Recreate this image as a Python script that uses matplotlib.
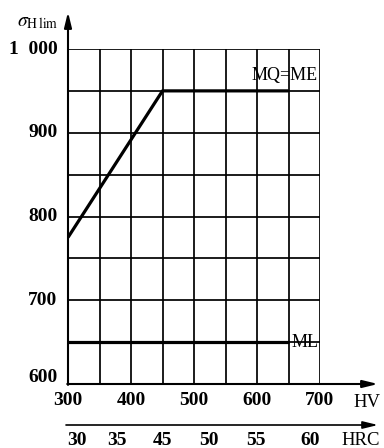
import matplotlib
matplotlib.use("Agg")
import matplotlib.pyplot as plt

plt.rcParams["font.family"] = ["Liberation Serif", "DejaVu Serif"]
plt.rcParams["mathtext.fontset"] = "stix"

# Contact fatigue limit vs. hardness
hv_ticks = [300, 400, 500, 600, 700]
sigma_ticks = [600, 700, 800, 900, 1000]
sigma_tick_labels = ["600", "700", "800", "900", "1  000"]

mqme_hv = [300, 450, 650]
mqme_sigma = [775, 950, 950]
ml_hv = [300, 650]
ml_sigma = [650, 650]

# HRC scale with equivalent HV positions
hrc_labels = ["30", "35", "45", "50", "55", "60"]
hrc_at_hv = [314, 377, 450, 523, 599, 685]

fig = plt.figure(figsize=(3.84, 4.48), dpi=100)
W, H = 384, 448
x0, x1 = 68, 320
y0, y1 = 384, 49
ax = fig.add_axes([x0 / W, 1 - y0 / H, (x1 - x0) / W, (y0 - y1) / H])
ax.set_xlim(300, 700)
ax.set_ylim(600, 1000)

for v in range(350, 701, 50):
    ax.axvline(v, color="black", lw=1.25)
for v in range(650, 1001, 50):
    ax.axhline(v, color="black", lw=1.25)

ax.plot(mqme_hv, mqme_sigma, color="black", lw=2.3, solid_capstyle="butt")
ax.plot(ml_hv, ml_sigma, color="black", lw=2.3, solid_capstyle="butt")

ax.text(592, 958, "MQ=ME", fontsize=13, ha="left", va="bottom")
ax.text(655, 650, "ML", fontsize=13, ha="left", va="center")

for s in ax.spines.values():
    s.set_visible(False)
ax.set_xticks([])
ax.set_yticks([])

# axis arrows
arrow = dict(arrowstyle="-|>,head_length=0.9,head_width=0.22", color="black", lw=1.5,
             shrinkA=0, shrinkB=0)
ax.annotate("", xy=(378 / W, 1 - y0 / H), xytext=(x0 / W - 0.002, 1 - y0 / H),
            xycoords="figure fraction", arrowprops=arrow)
ax.annotate("", xy=(x0 / W, 1 - 12 / H), xytext=(x0 / W, 1 - y0 / H - 0.002),
            xycoords="figure fraction", arrowprops=arrow)
ax.annotate("", xy=(378 / W, 1 - 425 / H), xytext=(66 / W, 1 - 425 / H),
            xycoords="figure fraction", arrowprops=dict(arrow, lw=1.2))

for v in hv_ticks:
    ax.text(v, 591, str(v), fontsize=14, fontweight="bold", ha="center", va="top")
for v, lab in zip(sigma_ticks, sigma_tick_labels):
    dy = 8 if v == 600 else 0
    ax.text(283, v + dy, lab, fontsize=14, fontweight="bold", ha="right", va="center")

for v, lab in zip(hrc_at_hv, hrc_labels):
    fig.text((x0 + (v - 300) * (x1 - x0) / 400) / W, 1 - 440 / H, lab,
             fontsize=14, fontweight="bold", ha="center", va="center")

fig.text(367 / W, 1 - 402 / H, "HV", fontsize=13.5, ha="center", va="center")
fig.text(361 / W, 1 - 440 / H, "HRC", fontsize=13.5, ha="center", va="center")
fig.text(38 / W, 1 - 22 / H, r"$\sigma_{\mathrm{H\,lim}}$", fontsize=14,
         ha="center", va="center")

fig.savefig("out.png", dpi=100)
